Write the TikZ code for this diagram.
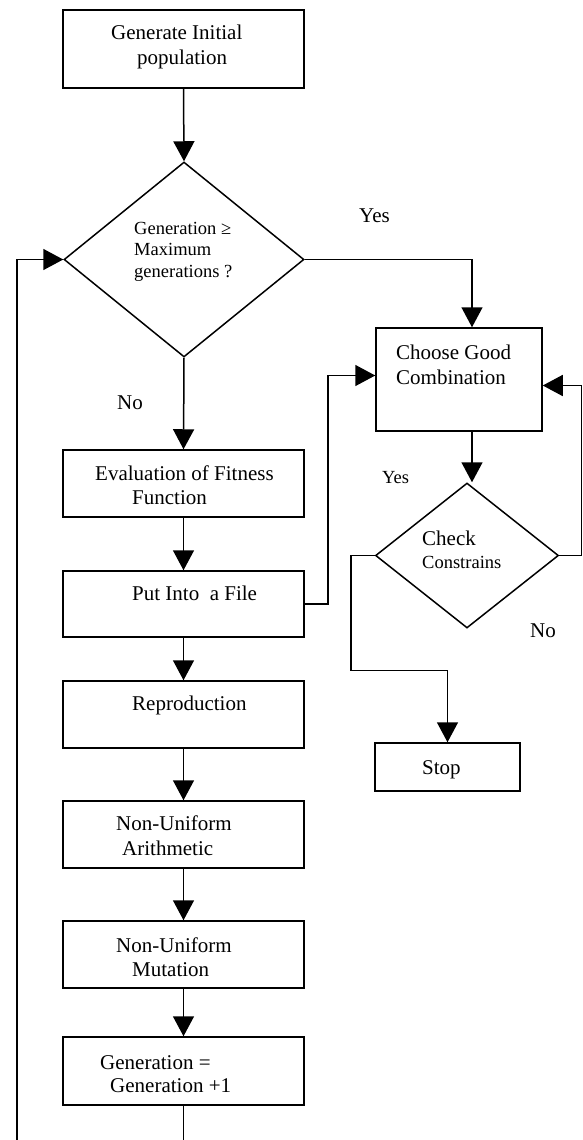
\documentclass[tikz,border=0pt]{standalone}
\usepackage{fontspec}
\setmainfont{Liberation Serif}
\usetikzlibrary{shapes.geometric,arrows.meta}
\tikzset{
  box/.style={draw, line width=1.5pt, rectangle, inner sep=0pt},
  dia/.style={draw, line width=1.5pt, diamond, inner sep=0pt},
  arr/.style={line width=1.5pt, -{Triangle[width=21pt,length=20pt]}},
  ln/.style={line width=1.5pt},
  txt/.style={anchor=base west, inner sep=0pt, font=\fontsize{21}{24}\selectfont},
  stxt/.style={anchor=base west, inner sep=0pt, font=\fontsize{18.5}{21}\selectfont}
}
\begin{document}
\begin{tikzpicture}[x=1pt,y=-1pt]
\useasboundingbox (0,0) rectangle (583,1140);
% boxes
\node[box, minimum width=241pt, minimum height=78pt] (b1) at (183.5,49) {};
\node[dia, minimum width=240pt, minimum height=195pt] (d1) at (184,259.5) {};
\node[box, minimum width=166pt, minimum height=103pt] (b2) at (459,379.5) {};
\node[dia, minimum width=183pt, minimum height=145pt] (d2) at (467,555.5) {};
\node[box, minimum width=145pt, minimum height=48pt] (stop) at (447.5,767) {};
\node[box, minimum width=241pt, minimum height=67pt] (b3) at (183.5,483.5) {};
\node[box, minimum width=241pt, minimum height=66pt] (b4) at (183.5,604) {};
\node[box, minimum width=241pt, minimum height=67pt] (b5) at (183.5,714.5) {};
\node[box, minimum width=241pt, minimum height=67pt] (b6) at (183.5,834.5) {};
\node[box, minimum width=241pt, minimum height=67pt] (b7) at (183.5,954.5) {};
\node[box, minimum width=241pt, minimum height=68pt] (b8) at (183.5,1071) {};
% texts
\node[txt] (t1a) at (111,40) {Generate Initial};
\node[txt] (t1b) at (137,64) {population};
\node[stxt] (t2a) at (134,234) {Generation ≥};
\node[stxt] (t2b) at (134,255) {Maximum};
\node[stxt] (t2c) at (134,277) {generations ?};
\node[txt] (yes1) at (359,222) {Yes};
\node[txt] (no1) at (117,409) {No};
\node[txt] (t3a) at (396,359) {Choose Good};
\node[txt] (t3b) at (396,384) {Combination};
\node[stxt] (yes2) at (382,483) {Yes};
\node[txt] (t4a) at (422,545) {Check};
\node[stxt] (t4b) at (422,568) {Constrains};
\node[txt] (no2) at (530,637) {No};
\node[txt] (t5) at (422,774) {Stop};
\node[txt] (t6a) at (95,480) {Evaluation of Fitness};
\node[txt] (t6b) at (132,504) {Function};
\node[txt] (t7) at (132,600) {Put Into\ \ a File};
\node[txt] (t8) at (132,710) {Reproduction};
\node[txt] (t9a) at (116,830) {Non-Uniform};
\node[txt] (t9b) at (122,855) {Arithmetic};
\node[txt] (t10a) at (116,952) {Non-Uniform};
\node[txt] (t10b) at (132,976) {Mutation};
\node[txt] (t11a) at (100,1069) {Generation =};
\node[txt] (t11b) at (110,1092) {Generation +1};
% free ends
\coordinate (bot1) at (183.5,1140);
\coordinate (bot2) at (17,1140);
% connectors
\draw[arr] (b1.south) -- (d1.north);
\draw[arr] (d1.south) -- (b3.north);
\draw[arr] (b3.south) -- (b4.north);
\draw[arr] (b4.south) -- (b5.north);
\draw[arr] (b5.south) -- (b6.north);
\draw[arr] (b6.south) -- (b7.north);
\draw[arr] (b7.south) -- (b8.north);
\draw[ln] (b8.south) -- (bot1);
\draw[arr] (bot2) |- (d1.west);
\draw[arr] (d1.east) -| ([xshift=13pt]b2.north);
\draw[arr] ([xshift=13pt]b2.south) -- ([xshift=13pt]b2.south |- d2.north);
\draw[arr] (b4.east) -- ++(23,0) |- ([yshift=4pt]b2.west);
\draw[arr] (d2.east) -- ++(22,0) |- ([yshift=-6pt]b2.east);
\draw[arr] (d2.west) -- ++(-24,0) -- ++(0,115) -| (stop.north);
\end{tikzpicture}
\end{document}
